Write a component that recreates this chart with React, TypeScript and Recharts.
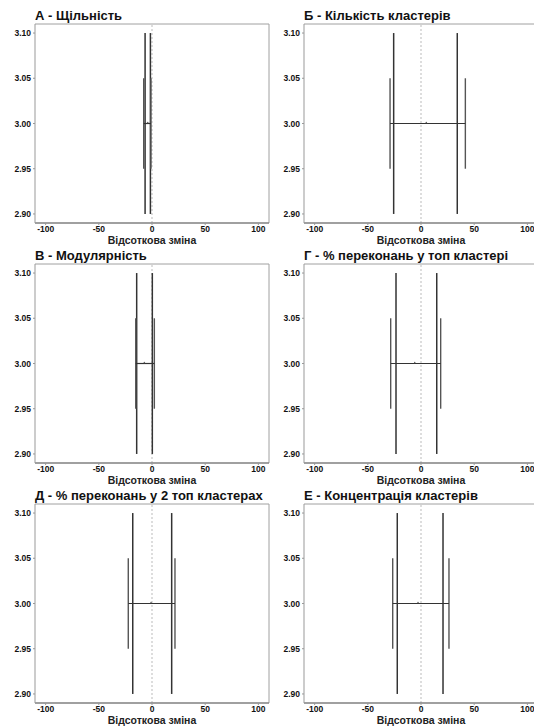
import {
  ComposedChart,
  ReferenceLine,
  Scatter,
  XAxis,
  YAxis,
} from "recharts";

const titles = [
  "А - Щільність",
  "Б - Кількість кластерів",
  "В - Модулярність",
  "Г - % переконань у топ кластері",
  "Д - % переконань у 2 топ кластерах",
  "Е - Концентрація кластерів",
];

// point estimate of the % change
const estimates = [-4, 5, -7.2, -5.9, -0.9, -2.8];
// long bars (2.90 - 3.10)
const tallLo = [-6.5, -25.7, -14.4, -23.5, -18.1, -22.3];
const tallHi = [-1.5, 34.1, 0.3, 14.8, 18.5, 20.7];
// short whiskers (2.95 - 3.05) joined by the line at 3.00
const shortLo = [-7.8, -29.1, -15.3, -28.5, -22.3, -26.6];
const shortHi = [-1, 41.7, 2.2, 18.5, 21.6, 26.3];

const xTicks = [-100, -50, 0, 50, 100];
const yTicks = [2.9, 2.95, 3.0, 3.05, 3.1];
const xLabel = "Відсоткова зміна";

const font = "'Liberation Sans', Arial, sans-serif";
const rowTops = [0, 240, 480];
const lineColor = "#333";

function Panel({ i }: { i: number }) {
  const col = i % 2;
  const top = rowTops[Math.floor(i / 2)];
  const left = col * 269;
  const tick = {
    fontSize: 8.5,
    fontWeight: "bold",
    fill: "#111",
    fontFamily: font,
    style: { fontWeight: "bold" },
  };

  return (
    <>
      <div
        style={{
          position: "absolute",
          left: left + 35,
          top: top + 9,
          fontFamily: font,
          fontWeight: 700,
          fontSize: 13,
          lineHeight: "14px",
          color: "#111",
          whiteSpace: "nowrap",
        }}>
        {titles[i]}
      </div>
      <div style={{ position: "absolute", left, top: top + 20 }}>
        <ComposedChart
          width={270}
          height={227}
          margin={{ top: 4, right: 1, left: 0, bottom: 0 }}>
          <XAxis
            type="number"
            dataKey="x"
            domain={[-110, 110]}
            ticks={xTicks}
            allowDataOverflow
            height={24}
            tick={tick}
            tickSize={2}
            tickMargin={1}
            tickLine={{ stroke: "#999" }}
            axisLine={{ stroke: "#808080", strokeWidth: 1.6 }}
            label={{
              value: xLabel,
              position: "insideBottom",
              offset: 3,
              style: { fontSize: 10.5, fontWeight: 700, fill: "#222", fontFamily: font },
            }}
          />
          <YAxis
            type="number"
            dataKey="y"
            domain={[2.89, 3.11]}
            ticks={yTicks}
            allowDataOverflow
            width={35}
            tick={tick}
            tickSize={2}
            tickMargin={2}
            tickLine={{ stroke: "#999" }}
            axisLine={{ stroke: "#999" }}
            tickFormatter={(v: number) => v.toFixed(2)}
          />
          <ReferenceLine y={3.11} stroke="#a0a0a0" />
          <ReferenceLine x={110} stroke="#a0a0a0" />
          <ReferenceLine x={0} stroke="#bbb" strokeDasharray="2 2" />

          <ReferenceLine
            segment={[{ x: tallLo[i], y: 2.9 }, { x: tallLo[i], y: 3.1 }]}
            stroke={lineColor}
            strokeWidth={1.5}
          />
          <ReferenceLine
            segment={[{ x: tallHi[i], y: 2.9 }, { x: tallHi[i], y: 3.1 }]}
            stroke={lineColor}
            strokeWidth={1.5}
          />
          <ReferenceLine
            segment={[{ x: shortLo[i], y: 2.95 }, { x: shortLo[i], y: 3.05 }]}
            stroke="#555"
            strokeWidth={1.4}
          />
          <ReferenceLine
            segment={[{ x: shortHi[i], y: 2.95 }, { x: shortHi[i], y: 3.05 }]}
            stroke="#555"
            strokeWidth={1.4}
          />
          <ReferenceLine
            segment={[{ x: shortLo[i], y: 3 }, { x: shortHi[i], y: 3 }]}
            stroke={lineColor}
            strokeWidth={1.2}
          />
          <Scatter
            data={[{ x: estimates[i], y: 3 }]}
            isAnimationActive={false}
            shape={(p: any) => <circle cx={p.cx} cy={p.cy - 1} r={0.8} fill="#666" />}
          />
        </ComposedChart>
      </div>
    </>
  );
}

export default function App() {
  return (
    <div
      style={{
        position: "absolute",
        left: 0,
        top: 0,
        width: 534,
        height: 727,
        overflow: "hidden",
        background: "#fff",
      }}>
      {titles.map((_, i) => (
        <Panel key={i} i={i} />
      ))}
    </div>
  );
}
